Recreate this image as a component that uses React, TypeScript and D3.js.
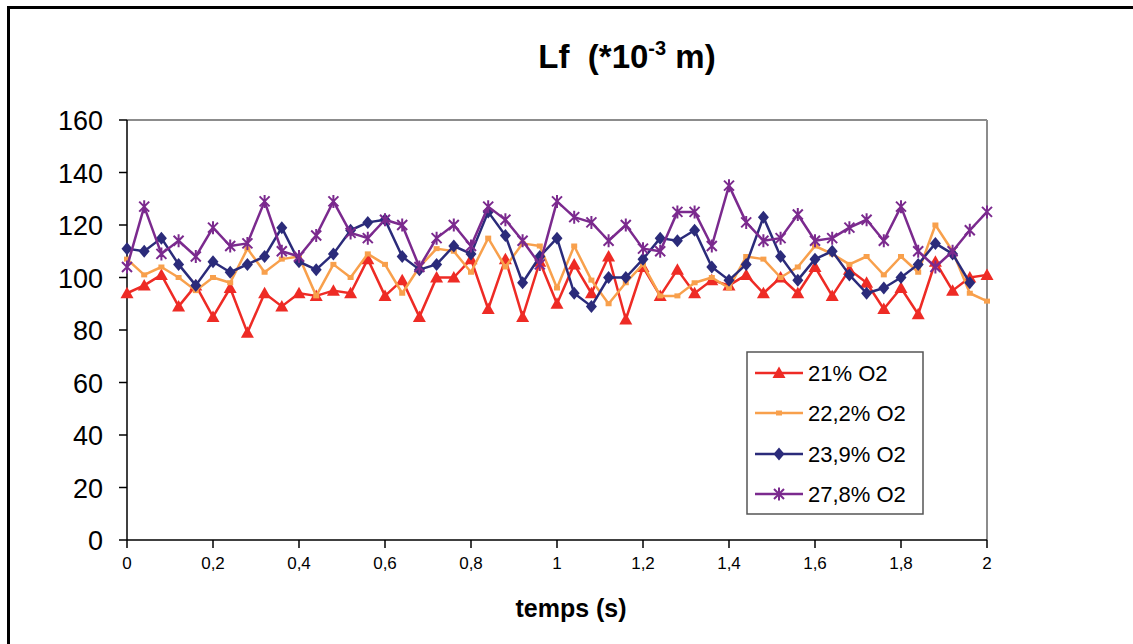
import React from "react";
import * as d3 from "d3";

const times = [0, 0.04, 0.08, 0.12, 0.16, 0.2, 0.24, 0.28, 0.32, 0.36, 0.4, 0.44, 0.48, 0.52, 0.56, 0.6, 0.64, 0.68, 0.72, 0.76, 0.8, 0.84, 0.88, 0.92, 0.96, 1, 1.04, 1.08, 1.12, 1.16, 1.2, 1.24, 1.28, 1.32, 1.36, 1.4, 1.44, 1.48, 1.52, 1.56, 1.6, 1.64, 1.68, 1.72, 1.76, 1.8, 1.84, 1.88, 1.92, 1.96, 2];

const o2_21 = [94, 97, 101, 89, 97, 85, 96, 79, 94, 89, 94, 93, 95, 94, 107, 93, 99, 85, 100, 100, 107, 88, 107, 85, 106, 90, 105, 94, 108, 84, 104, 93, 103, 94, 99, 97, 101, 94, 100, 94, 104, 93, 103, 98, 88, 96, 86, 106, 95, 100, 101];
const o2_222 = [107, 101, 104, 100, 95, 100, 98, 111, 102, 107, 108, 93, 105, 100, 109, 105, 94, 104, 111, 110, 102, 115, 104, 113, 112, 96, 112, 99, 90, 98, 105, 93, 93, 98, 100, 96, 108, 107, 100, 104, 112, 109, 105, 108, 101, 108, 102, 120, 110, 94, 91];
const o2_239 = [111, 110, 115, 105, 97, 106, 102, 105, 108, 119, 106, 103, 109, 118, 121, 122, 108, 103, 105, 112, 109, 125, 116, 98, 108, 115, 94, 89, 100, 100, 107, 115, 114, 118, 104, 99, 105, 123, 108, 99, 107, 110, 101, 94, 96, 100, 105, 113, 109, 98];
const o2_278 = [104, 127, 109, 114, 108, 119, 112, 113, 129, 110, 108, 116, 129, 117, 115, 122, 120, 104, 115, 120, 112, 127, 122, 114, 105, 129, 123, 121, 114, 120, 111, 110, 125, 125, 112, 135, 121, 114, 115, 124, 114, 115, 119, 122, 114, 127, 110, 104, 110, 118, 125];

const seriesNames = ["21% O2", "22,2% O2", "23,9% O2", "27,8% O2"];
const yTicks = [0, 20, 40, 60, 80, 100, 120, 140, 160];
const xTicks = [0, 0.2, 0.4, 0.6, 0.8, 1, 1.2, 1.4, 1.6, 1.8, 2];

const FONT = "Arial, 'Liberation Sans', sans-serif";

const series = [
  { name: seriesNames[0], values: o2_21, color: "#EE2B25", marker: "triangle" },
  { name: seriesNames[1], values: o2_222, color: "#F8A04C", marker: "square" },
  { name: seriesNames[2], values: o2_239, color: "#2B2B7A", marker: "diamond" },
  { name: seriesNames[3], values: o2_278, color: "#7B2A8E", marker: "star" },
];

function Marker({ type, color, x, y }: { type: string; color: string; x: number; y: number }) {
  if (type === "triangle") {
    return <path d="M0,-6.5 L6.5,5 L-6.5,5 Z" fill={color} transform={`translate(${x},${y})`} />;
  }
  if (type === "square") {
    return <rect x={x - 3} y={y - 2.5} width={6} height={5} fill={color} />;
  }
  if (type === "diamond") {
    return <path d="M0,-6.5 L5.5,0 L0,6.5 L-5.5,0 Z" fill={color} transform={`translate(${x},${y})`} />;
  }
  return (
    <path
      d="M-5,-5 L5,5 M-5,5 L5,-5 M0,-6.5 L0,6.5"
      stroke={color}
      strokeWidth={2}
      fill="none"
      transform={`translate(${x},${y})`}
    />
  );
}

export default function App() {
  const left = 127, right = 987, top = 120, bottom = 540;
  const x = d3.scaleLinear().domain([0, 2]).range([left, right]);
  const y = d3.scaleLinear().domain([0, 160]).range([bottom, top]);
  const line = d3
    .line<number>()
    .x((_, i) => x(times[i]))
    .y((d) => y(d));

  const legendX = 747, legendY = 352, legendW = 176, legendH = 162;
  const legendRows = [373, 413, 454, 494];

  return (
    <svg
      width={1133}
      height={644}
      style={{ position: "fixed", left: 0, top: 0, background: "#fff" }}
      fontFamily={FONT}
    >
      <rect x={0} y={0} width={1133} height={644} fill="#fff" />
      {/* outer chart frame */}
      <path d="M8.5,700 L8.5,7.5 L1140,7.5" stroke="#000" strokeWidth={3} fill="none" />

      {/* title */}
      <text x={627} y={68} textAnchor="middle" fontSize={33} fontWeight="bold" fill="#000" style={{ whiteSpace: "pre" }}>
        {"Lf  (*10"}
        <tspan fontSize={20} dy={-13}>-3</tspan>
        <tspan dy={13}>{" m)"}</tspan>
      </text>

      {/* plot area border (top & right) */}
      <line x1={left} y1={top} x2={right} y2={top} stroke="#8c8c8c" strokeWidth={2} />
      <line x1={right} y1={top} x2={right} y2={bottom} stroke="#8c8c8c" strokeWidth={2} />

      {/* y axis */}
      <line x1={left} y1={top} x2={left} y2={bottom} stroke="#000" strokeWidth={1.5} />
      {yTicks.map((t) => (
        <g key={t}>
          <line x1={left - 8} x2={left} y1={y(t)} y2={y(t)} stroke="#000" strokeWidth={1.5} />
          <text x={103} y={y(t) + 10} textAnchor="end" fontSize={27} fill="#000">
            {t}
          </text>
        </g>
      ))}

      {/* x axis */}
      <line x1={left} y1={bottom} x2={right} y2={bottom} stroke="#000" strokeWidth={1.5} />
      {xTicks.map((t) => (
        <g key={t}>
          <line x1={x(t)} x2={x(t)} y1={bottom} y2={bottom + 8} stroke="#000" strokeWidth={1.5} />
          <text x={x(t)} y={569} textAnchor="middle" fontSize={17} fill="#000">
            {String(t).replace(".", ",")}
          </text>
        </g>
      ))}
      <text x={571} y={617} textAnchor="middle" fontSize={25} fontWeight="bold" fill="#000">
        temps (s)
      </text>

      {/* series */}
      {series.map((s) => (
        <g key={s.name}>
          <path d={line(s.values) || ""} fill="none" stroke={s.color} strokeWidth={2.5} strokeLinejoin="round" />
          {s.values.map((v, i) => (
            <Marker key={i} type={s.marker} color={s.color} x={x(times[i])} y={y(v)} />
          ))}
        </g>
      ))}

      {/* legend */}
      <rect x={legendX} y={legendY} width={legendW} height={legendH} fill="#fff" stroke="#555" strokeWidth={1.5} />
      {series.map((s, i) => (
        <g key={s.name}>
          <line x1={755} x2={803} y1={legendRows[i]} y2={legendRows[i]} stroke={s.color} strokeWidth={2.5} />
          <Marker type={s.marker} color={s.color} x={779} y={legendRows[i]} />
          <text x={808} y={legendRows[i] + 7.5} fontSize={22} fill="#000">
            {s.name}
          </text>
        </g>
      ))}
    </svg>
  );
}
